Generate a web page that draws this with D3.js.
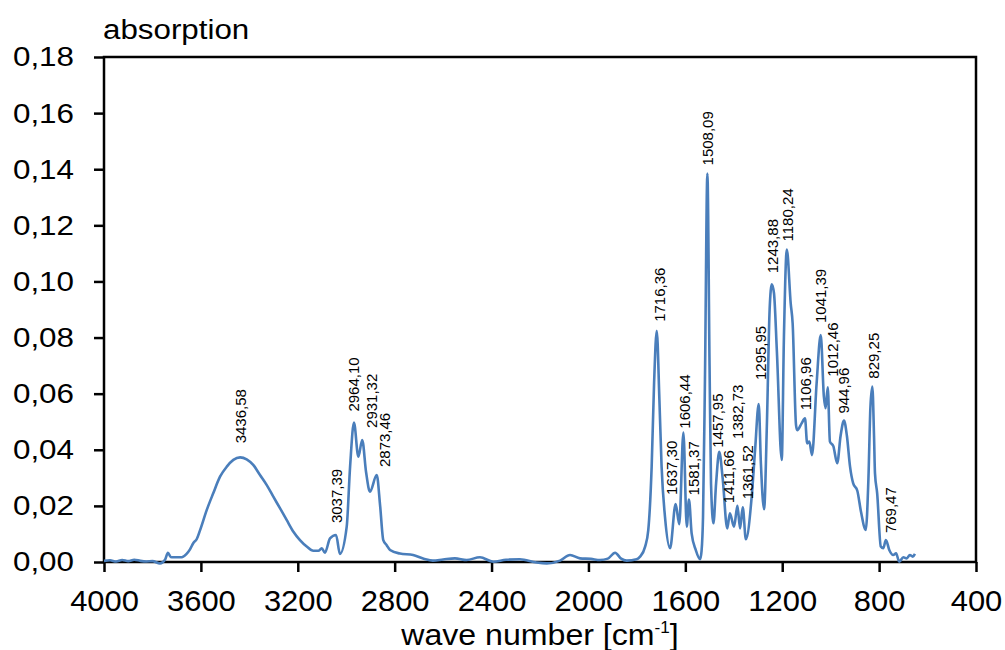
<!DOCTYPE html>
<html>
<head>
<meta charset="utf-8">
<script src="https://cdn.jsdelivr.net/npm/d3@7"></script>
<style>
body{margin:0;background:#fff;}
text{font-family:"Liberation Sans",Arial,sans-serif;fill:#000;}
</style>
</head>
<body>
<svg width="1005" height="650"></svg>
<script>
// spectrum readings, wave number [cm-1] -> absorption
var waveNumbers = [4000,3975,3950,3925,3900,3875,3850,3825,3800,3769,3748,3736,3725,3714,3679,3660,3645,3631,3617,3604,
  3576,3549,3521,3493,3466,3438,3411,3384,3356,3328,3301,3273,3246,3218,3191,3163,3136,3115,3101,3088,
  3067,3042,3026,2998,2984,2968,2950,2934,2918,2902,2874,2860,2847,2833,2819,2778,2724,2680,2642,2600,
  2551,2503,2448,2393,2340,2283,2214,2172,2117,2076,2035,1990,1952,1920,1890,1865,1842,1801,1787,1766,
  1753,1739,1729,1718,1707,1698,1684,1663,1640,1625,1608,1594,1585,1574,1557,1539,1533,1527,1519,1509,
  1500,1494,1484,1473,1460,1446,1427,1416,1399,1385,1374,1363,1350,1326,1312,1297,1288,1275,1263,1252,
  1243,1234,1222,1202,1193,1181,1165,1157,1143,1138,1120,1106,1097,1088,1077,1058,1041,1028,1021,1012,
  1003,989,973,959,945,933,920,907,890,875,855,844,836,828,821,817,808,793,783,772,
  758,742,730,717,700,686,673,661,652];
var absorbance = [0.0004,0.0006,0.0002,0.0007,0.0003,0.0008,0.0004,0.0002,0.0003,-0.0005,0.0008,0.0033,0.0018,0.0017,0.0017,0.0028,0.0045,0.0068,0.0082,0.0112,
  0.0185,0.0245,0.0304,0.034,0.0364,0.0373,0.0366,0.0346,0.031,0.0274,0.0233,0.0191,0.015,0.0108,0.0078,0.0055,0.004,0.004,0.0049,0.0033,
  0.0084,0.0096,0.0029,0.0126,0.034,0.0497,0.0375,0.0435,0.032,0.0251,0.031,0.02,0.0078,0.006,0.0043,0.003,0.0025,0.0012,0.0005,0.0009,
  0.0013,0.0007,0.0017,0.0001,0.0008,0.001,-0.0002,-0.0005,0.0005,0.0025,0.0013,0.0011,0.0007,0.0012,0.0033,0.0012,0.0005,0.001,0.0019,0.0055,
  0.0114,0.034,0.0638,0.0824,0.0577,0.034,0.0161,0.0049,0.0207,0.0135,0.0461,0.0126,0.0223,0.0102,0.0043,0.001,0.004,0.016,0.065,0.1385,
  0.07,0.028,0.0138,0.028,0.0393,0.03,0.012,0.0174,0.0126,0.02,0.012,0.0195,0.0081,0.0233,0.04,0.0563,0.035,0.0188,0.05,0.09,
  0.099,0.0958,0.075,0.0364,0.08,0.1114,0.0922,0.0851,0.0488,0.047,0.0494,0.0512,0.0423,0.0429,0.0381,0.0637,0.0809,0.0589,0.0548,0.0623,
  0.0429,0.0413,0.0352,0.045,0.0504,0.045,0.034,0.028,0.0254,0.018,0.0114,0.03,0.055,0.0625,0.045,0.0316,0.0245,0.0055,0.0049,0.0078,
  0.0043,0.0025,0.0031,0.0001,0.0017,0.0013,0.0025,0.0019,0.0029];

// labelled peaks
var peakWaveNumbers = [3436.58,3037.39,2964.10,2931.32,2873.46,1716.36,1637.30,1606.44,1581.37,1508.09,1457.95,1411.66,
  1382.73,1361.52,1295.95,1243.88,1180.24,1106.96,1041.39,1012.46,944.96,829.25,769.47];
var peakHeights = [0.0373,0.0096,0.0497,0.0435,0.031,0.0824,0.0207,0.0461,0.0223,0.1385,0.0393,0.0174,
  0.02,0.0195,0.0563,0.099,0.1114,0.0512,0.0809,0.0623,0.0504,0.0625,0.0078];

var xTicks = [4000,3600,3200,2800,2400,2000,1600,1200,800,400];
var yTicks = [0,0.02,0.04,0.06,0.08,0.10,0.12,0.14,0.16,0.18];

// label placement: [dx, gap above peak] in px
var labelNudge = [[0,14],[0,12],[-1,11],[9,12],[8,8],[3,9],[-4.5,9],[1,4],[3.5,4],[0,8],[-1.5,4],[-2,10],
  [0,67],[4.5,8],[2,24],[1,11],[1,8],[1,8],[0,12],[5,10.5],[0,7],[2,8],[4.5,7]];

var width = 1005, height = 650;
var margin = {top:57, right:29, bottom:88, left:104};

var locale = d3.formatLocale({decimal:",", thousands:".", grouping:[3], currency:["",""]});
var fmt2 = locale.format(".2f");

var svg = d3.select("svg");

// the source chart has slightly wider lettering than Arial
function widen(sel, k){
  sel.each(function(){
    var len = this.getComputedTextLength();
    d3.select(this).attr("textLength",len*k).attr("lengthAdjust","spacingAndGlyphs");
  });
}

var x = d3.scaleLinear()
  .domain([4000,400])
  .range([margin.left, width-margin.right]);
var y = d3.scaleLinear()
  .domain([0,0.18])
  .range([height-margin.bottom, margin.top]);

var xAxis = d3.axisBottom(x).tickValues(xTicks).tickFormat(d3.format("d"))
  .tickSize(10).tickSizeOuter(0).tickPadding(18);
var yAxis = d3.axisLeft(y).tickValues(yTicks).tickFormat(fmt2)
  .tickSize(10).tickSizeOuter(0).tickPadding(20);

var gx = svg.append("g")
  .attr("transform","translate(0,"+(height-margin.bottom)+")")
  .call(xAxis);
var gy = svg.append("g")
  .attr("transform","translate("+margin.left+",0)")
  .call(yAxis);

[gx,gy].forEach(function(g){
  g.select(".domain").remove();
  g.selectAll(".tick line").attr("stroke","#000").attr("stroke-width",2.5);
  g.selectAll(".tick text").attr("fill","#000")
    .style("font-family","'Liberation Sans',Arial,sans-serif");
});
gx.selectAll(".tick text").style("font-size","30px");
gy.selectAll(".tick text").style("font-size","28px");
widen(gx.selectAll(".tick text"),1.03);
widen(gy.selectAll(".tick text"),1.12);

// frame
svg.append("rect")
  .attr("x",margin.left)
  .attr("y",margin.top)
  .attr("width",width-margin.left-margin.right)
  .attr("height",height-margin.top-margin.bottom)
  .attr("fill","none")
  .attr("stroke","#000")
  .attr("stroke-width",2.5);

var points = waveNumbers.map(function(w,i){return {w:w, a:absorbance[i]};});

var line = d3.line()
  .x(function(d){return x(d.w);})
  .y(function(d){return y(d.a);})
  .curve(d3.curveMonotoneX);

svg.append("path")
  .datum(points)
  .attr("d",line)
  .attr("fill","none")
  .attr("stroke","#4a7ebb")
  .attr("stroke-width",2.6)
  .attr("stroke-linejoin","round");

// peak labels
svg.append("g").selectAll("text")
  .data(peakWaveNumbers)
  .enter()
  .append("text")
  .attr("transform",function(d,i){
    var px = x(d)+labelNudge[i][0];
    var py = y(peakHeights[i])-labelNudge[i][1];
    return "translate("+px+","+py+") rotate(-90)";
  })
  .attr("dy","0.35em")
  .style("font-size","15px")
  .text(function(d){return fmt2(d);});

// titles
var yt = svg.append("text")
  .attr("x",103)
  .attr("y",39)
  .style("font-size","27px")
  .text("absorption");
widen(yt,1.16);

var xt = svg.append("text")
  .attr("x",(margin.left+width-margin.right)/2)
  .attr("y",645)
  .attr("text-anchor","middle")
  .style("font-size","30px");
xt.append("tspan").text("wave number [cm");
xt.append("tspan").attr("dy",-12).style("font-size","16px").text("-1");
xt.append("tspan").attr("dy",12).text("]");
widen(xt,1.07);
</script>
</body>
</html>
